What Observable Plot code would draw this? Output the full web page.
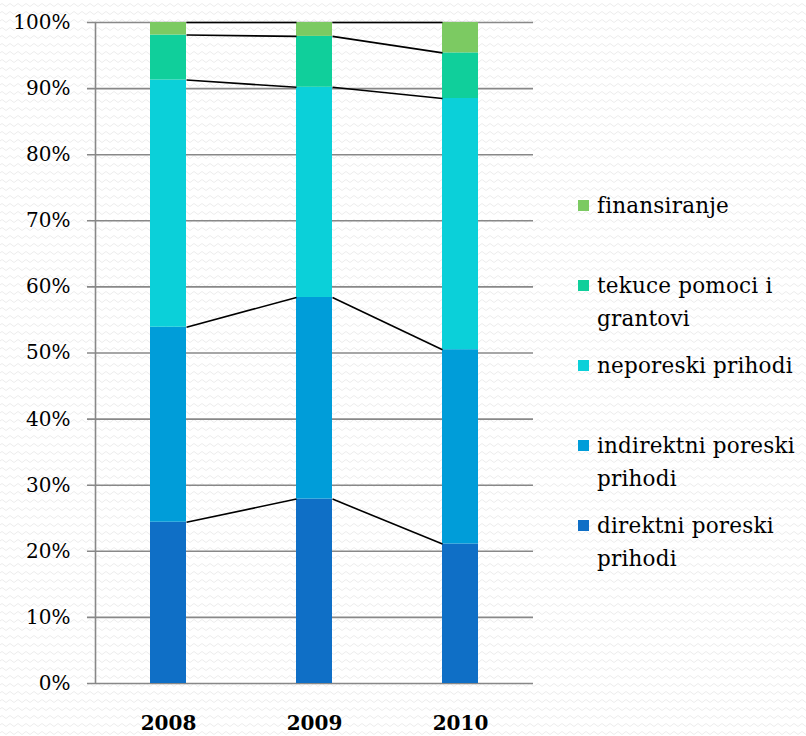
<!DOCTYPE html>
<html>
<head>
<meta charset="utf-8">
<script src="https://cdn.jsdelivr.net/npm/d3@7"></script>
<script src="https://cdn.jsdelivr.net/npm/@observablehq/plot@0.6"></script>
<style>
  html, body { margin: 0; padding: 0; }
  body {
    width: 806px; height: 736px; overflow: hidden;
    background-color: #ffffff;
    background-image: url("data:image/svg+xml;utf8,<svg xmlns='http://www.w3.org/2000/svg' width='8' height='8'><path d='M0 5 Q2 2 4 5 T8 5' fill='none' stroke='%23ececec' stroke-width='1'/></svg>");
  }
  #wrap { position: relative; width: 806px; height: 736px; font-family: "DejaVu Serif", serif; }
  #legend { position: absolute; left: 578px; top: 0; }
  .item { position: absolute; left: 0; width: 226px; font-size: 21.5px; line-height: 33px; color: #000; letter-spacing: 0.2px; }
  .sw { position: absolute; left: 0; top: 11px; width: 11px; height: 11px; }
  .lab { position: absolute; left: 19px; top: 0; white-space: nowrap; }
</style>
</head>
<body>
<div id="wrap"><div id="chart"></div><div id="legend"></div></div>
<script>
const years = ["2008", "2009", "2010"];
const seriesNames = ["direktni poreski prihodi", "indirektni poreski prihodi", "neporeski prihodi", "tekuce pomoci i grantovi", "finansiranje"];
const direktni = [24.4, 27.9, 21.1];
const indirektni = [29.5, 30.5, 29.4];
const neporeski = [37.4, 31.8, 38.0];
const tekuce = [6.8, 7.7, 6.9];
const finansiranje = [1.9, 2.1, 4.6];
const seriesColors = ["#0F6FC6", "#009DD9", "#0BD0D9", "#10CF9B", "#7CCA62"];
const yTicks = [0, 10, 20, 30, 40, 50, 60, 70, 80, 90, 100];
const legendLines = [["finansiranje"], ["tekuce pomoci i", "grantovi"], ["neporeski prihodi"], ["indirektni poreski", "prihodi"], ["direktni poreski", "prihodi"]];
const legendColors = ["#7CCA62", "#10CF9B", "#0BD0D9", "#009DD9", "#0F6FC6"];

const values = [direktni, indirektni, neporeski, tekuce, finansiranje];
const hw = 0.1233; // half bar width in x units

// cumulative stacking
const rects = [];
const tops = values.map(() => []);
years.forEach((yr, i) => {
  let acc = 0;
  values.forEach((arr, s) => {
    const y1 = acc; acc += arr[i];
    rects.push({i, series: seriesNames[s], y1, y2: acc});
    tops[s][i] = acc;
  });
});
const links = [];
tops.forEach((t, s) => {
  for (let i = 0; i < years.length - 1; i++) {
    links.push({x1: i + hw, x2: i + 1 - hw, y1: t[i], y2: t[i + 1]});
  }
});

const chart = Plot.plot({
  width: 806,
  height: 736,
  marginLeft: 95,
  marginRight: 273,
  marginTop: 22,
  marginBottom: 53,
  style: {background: "transparent", fontFamily: "'DejaVu Serif', serif", fontSize: "20px", color: "#000"},
  x: {type: "linear", domain: [-0.5, 2.5], axis: null},
  y: {domain: [0, 100], axis: null},
  color: {domain: seriesNames, range: seriesColors},
  marks: [
    Plot.ruleY(yTicks, {y: d => d, x1: -0.555, x2: 2.5, stroke: "#888", strokeWidth: 1.6}),
    Plot.ruleX([-0.5], {y1: 0, y2: 100, stroke: "#888", strokeWidth: 1.6}),
    Plot.rect(rects, {x1: d => d.i - hw, x2: d => d.i + hw, y1: "y1", y2: "y2", fill: "series"}),
    Plot.link(links, {x1: "x1", x2: "x2", y1: "y1", y2: "y2", stroke: "#000", strokeWidth: 1.6}),
    Plot.text(yTicks, {x: -0.5, y: d => d, text: d => d + "%", textAnchor: "end", dx: -25, fontSize: 20, fill: "#000"}),
    Plot.text(years, {x: (d, i) => i, y: 0, text: d => d, dy: 40, fontSize: 20, fontWeight: "bold", fill: "#000"})
  ]
});
document.getElementById("chart").appendChild(chart);

const legend = document.getElementById("legend");
legendLines.forEach((lines, k) => {
  const center = 205 + 80 * k;
  const item = document.createElement("div");
  item.className = "item";
  item.style.top = (center - 16.5) + "px";
  const sw = document.createElement("div");
  sw.className = "sw";
  sw.style.background = legendColors[k];
  const lab = document.createElement("div");
  lab.className = "lab";
  lab.innerHTML = lines.join("<br>");
  item.appendChild(sw); item.appendChild(lab);
  legend.appendChild(item);
});
</script>
</body>
</html>
